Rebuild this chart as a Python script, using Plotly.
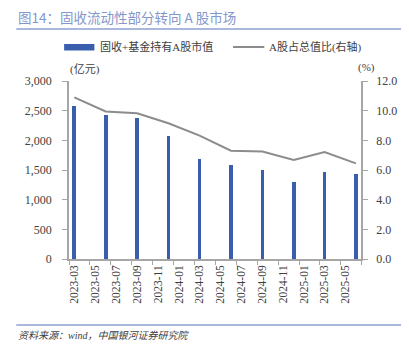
import plotly.graph_objects as go

# ---- data ----
months = ["2023-03", "2023-06", "2023-09", "2023-12", "2024-03",
          "2024-06", "2024-09", "2024-12", "2025-03", "2025-06"]
holdings = [2580, 2435, 2380, 2080, 1685, 1580, 1500, 1290, 1460, 1425]   # 亿元
share_pct = [10.9, 9.95, 9.82, 9.15, 8.32, 7.30, 7.24, 6.68, 7.21, 6.45]  # %
tick_months = ["2023-03", "2023-05", "2023-07", "2023-09", "2023-11",
               "2024-01", "2024-03", "2024-05", "2024-07", "2024-09",
               "2024-11", "2025-01", "2025-03", "2025-05"]
left_ticks = [0, 500, 1000, 1500, 2000, 2500, 3000]
right_ticks = [0, 2, 4, 6, 8, 10, 12]

BLUE = "#3A5EAE"
GRAY = "#8C8C8C"
AXIS = "#A6A6A6"
TXT = "#404040"
FONT = "Liberation Serif, Noto Sans CJK SC"

fig = go.Figure()
fig.add_trace(go.Bar(
    x=months, y=holdings, name="固收+基金持有A股市值",
    xperiod="M1", xperiodalignment="middle",
    width=11 * 86400000, marker=dict(color=BLUE, line=dict(width=0)),
    yaxis="y"))
fig.add_trace(go.Scatter(
    x=months, y=share_pct, name="A股占总值比(右轴)", mode="lines",
    xperiod="M1", xperiodalignment="middle",
    line=dict(color=GRAY, width=2), yaxis="y2"))

W, H = 409, 347
L, R, T, B = 69, 41, 81, 88
pw, ph = W - L - R, H - T - B

def px(x):
    return (x - L) / pw

def py(y):
    return (H - B - y) / ph

fig.update_layout(
    width=W, height=H, autosize=False,
    margin=dict(l=L, r=R, t=T, b=B, pad=0),
    paper_bgcolor="white", plot_bgcolor="white",
    showlegend=False, bargap=0,
    font=dict(family=FONT, size=12, color=TXT),
    xaxis=dict(
        type="date", range=["2023-03-01", "2025-07-01"],
        tickmode="array",
        tickvals=[m + "-16" for m in tick_months],
        ticktext=tick_months, tickangle=-90,
        ticks="", showgrid=False, zeroline=False,
        showline=True, linecolor=AXIS, linewidth=1.5,
        tickfont=dict(size=11.5, family=FONT, color=TXT),
        minor=dict(ticks="outside", dtick="M2", tick0="2023-03-01",
                   ticklen=4, tickcolor=AXIS, tickwidth=1, showgrid=False),
    ),
    yaxis=dict(
        range=[0, 3000], tickvals=left_ticks, tickformat=",d",
        ticks="outside", ticklen=5, tickcolor=AXIS, tickwidth=1,
        showline=True, linecolor=AXIS, linewidth=1.5,
        showgrid=False, zeroline=False, ticklabelstandoff=8,
        tickfont=dict(size=12, family=FONT, color=TXT),
    ),
    yaxis2=dict(
        range=[0, 12], tickvals=right_ticks, tickformat=".1f",
        overlaying="y", side="right", anchor="x",
        ticks="outside", ticklen=5, tickcolor=AXIS, tickwidth=1,
        showline=True, linecolor=AXIS, linewidth=1.5,
        showgrid=False, zeroline=False, ticklabelstandoff=6,
        tickfont=dict(size=12, family=FONT, color=TXT),
    ),
)

shapes = [
    # title underline
    dict(type="line", xref="paper", yref="paper", x0=px(15), x1=px(409),
         y0=py(29), y1=py(29), line=dict(color="#8DA0D0", width=1.5)),
    # bottom line
    dict(type="line", xref="paper", yref="paper", x0=px(15), x1=px(409),
         y0=py(325), y1=py(325), line=dict(color="#8DA0D0", width=1.5)),
    # legend bar swatch
    dict(type="rect", xref="paper", yref="paper", x0=px(64), x1=px(95),
         y0=py(50.5), y1=py(44), fillcolor=BLUE, line=dict(width=0)),
    # legend line swatch
    dict(type="line", xref="paper", yref="paper", x0=px(237), x1=px(269),
         y0=py(47), y1=py(47), line=dict(color=GRAY, width=2)),
]
fig.update_layout(shapes=shapes)

ann = [
    dict(text="图14：固收流动性部分转向 A 股市场", x=px(15), y=py(17),
         xanchor="left", yanchor="middle",
         font=dict(size=13.5, color="#8397CC", family="Noto Sans CJK SC")),
    dict(text="固收+基金持有A股市值", x=px(99), y=py(47),
         xanchor="left", yanchor="middle", font=dict(size=11, color=TXT)),
    dict(text="A股占总值比(右轴)", x=px(272), y=py(47),
         xanchor="left", yanchor="middle", font=dict(size=11, color=TXT)),
    dict(text="(亿元)", x=px(85), y=py(69),
         xanchor="center", yanchor="middle", font=dict(size=11, color=TXT)),
    dict(text="(%)", x=px(374), y=py(68),
         xanchor="center", yanchor="middle", font=dict(size=11, color=TXT)),
    dict(text="<i>资料来源：wind，中国银河证券研究院</i>", x=px(15), y=py(335),
         xanchor="left", yanchor="middle", font=dict(size=10, color=TXT)),
]
for a in ann:
    a.update(xref="paper", yref="paper", showarrow=False)
fig.update_layout(annotations=ann)

fig.write_html("out.html")
